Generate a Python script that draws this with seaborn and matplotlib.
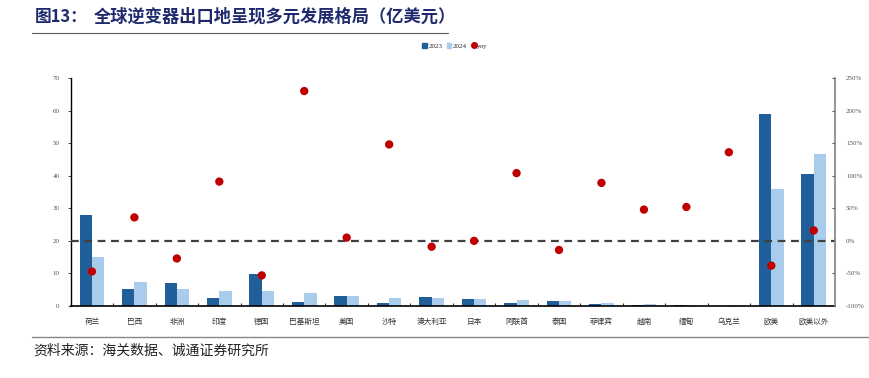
import matplotlib
matplotlib.use("Agg")
import matplotlib.pyplot as plt
import numpy as np
import pandas as pd
import seaborn as sns
from matplotlib.lines import Line2D
from matplotlib.patches import Patch
from matplotlib.ticker import FuncFormatter, MultipleLocator

# ================= 数据 =================
regions = ["荷兰", "巴西", "非洲", "印度", "德国", "巴基斯坦", "美国", "沙特", "澳大利亚",
           "日本", "阿联酋", "泰国", "菲律宾", "越南", "缅甸", "乌克兰", "欧美", "欧美以外"]
export_2023 = [27.9, 5.2, 7.1, 2.5, 9.8, 1.2, 3.1, 0.9, 2.7,
               2.1, 0.9, 1.5, 0.5, 0.3, 0.2, 0.05, 58.9, 40.4]
export_2024 = [14.9, 7.3, 5.1, 4.7, 4.6, 4.0, 3.1, 2.4, 2.4,
               2.1, 1.8, 1.4, 0.8, 0.5, 0.2, 0.2, 35.9, 46.8]
yoy = [-47, 36, -27, 91, -53, 230, 5, 148, -9,
       0, 104, -14, 89, 48, 52, 136, -38, 16]
year_labels = ["2023", "2024"]

df = pd.DataFrame({
    "region": regions * 2,
    "year": [year_labels[0]] * len(regions) + [year_labels[1]] * len(regions),
    "value": export_2023 + export_2024,
})
df_yoy = pd.DataFrame({"region": regions, "yoy": yoy})

# ================= 样式 =================
sns.set_style("white")
plt.rcParams["font.family"] = ["Noto Sans CJK SC", "DejaVu Sans"]
num_font = "Liberation Serif"
c2023, c2024, cdot = "#215f9a", "#a9cbec", "#c00000"
title_color = "#1f2a6e"

fig = plt.figure(figsize=(8.7, 3.78), dpi=100)
ax = fig.add_axes([70.7 / 870, 1 - 306 / 378, (835 - 70.7) / 870, (306 - 78) / 378])

# ================= 柱状图 =================
sns.barplot(data=df, x="region", y="value", hue="year", order=regions,
            palette=[c2023, c2024], width=0.58, saturation=1, ax=ax,
            legend=False, edgecolor="none")
ax.set_xlim(-0.5, len(regions) - 0.5)
ax.set_ylim(0, 70)
ax.yaxis.set_major_locator(MultipleLocator(10))
ax.set_xlabel("")
ax.set_ylabel("")

# ================= 同比散点（右轴） =================
ax2 = ax.twinx()
ax2.axhline(0, color="#404040", lw=1.6, ls=(0, (3.5, 2.5)), zorder=1)
sns.scatterplot(data=df_yoy, x="region", y="yoy", color=cdot, s=36,
                edgecolor="none", ax=ax2, zorder=3, legend=False)
ax2.set_xlim(-0.5, len(regions) - 0.5)
ax2.set_ylim(-100, 250)
ax2.yaxis.set_major_locator(MultipleLocator(50))
ax2.yaxis.set_major_formatter(FuncFormatter(lambda v, p: f"{v:.0f}%"))
ax2.set_ylabel("")

# ================= 坐标轴细节 =================
for a in (ax, ax2):
    a.spines["top"].set_visible(False)
ax.spines["left"].set_color("black")
ax.spines["left"].set_linewidth(1.0)
ax.spines["bottom"].set_color("black")
ax.spines["bottom"].set_linewidth(1.2)
ax.spines["right"].set_visible(False)
ax2.spines["left"].set_visible(False)
ax2.spines["bottom"].set_visible(False)
ax2.spines["right"].set_color("#808080")
ax2.spines["right"].set_linewidth(1.2)

ax.tick_params(axis="y", left=True, direction="out", length=2, width=0.6,
               labelsize=5, labelcolor="#555555", pad=6)
ax2.tick_params(axis="y", right=True, direction="in", length=2, width=0.6,
                labelsize=5, labelcolor="#555555", pad=8)
for lab in ax.get_yticklabels() + ax2.get_yticklabels():
    lab.set_fontfamily(num_font)

ax.set_xticks(np.arange(len(regions)))
ax.set_xticklabels(regions, fontsize=5.5, color="#333333")
ax.tick_params(axis="x", bottom=False, pad=5)
ax.set_xticks(np.arange(len(regions) - 1) + 0.5, minor=True)
ax.tick_params(axis="x", which="minor", bottom=True, direction="in", length=2, width=0.8)

# ================= 图例 =================
handles = [Patch(color=c2023, label="2023"), Patch(color=c2024, label="2024"),
           Line2D([], [], marker="o", ls="none", color=cdot, markersize=4, label="yoy")]
fig.legend(handles=handles, loc="center", bbox_to_anchor=(455 / 870, 1 - 46 / 378),
           ncol=3, frameon=False, prop={"family": num_font, "size": 5},
           handlelength=0.7, handleheight=0.7, handletextpad=0.2, columnspacing=0.6)

# ================= 标题与来源 =================
fig.text(35 / 870, 1 - 17 / 378, "图13：", fontsize=12, fontweight="bold",
         color=title_color, va="center", ha="left")
fig.text(94 / 870, 1 - 17 / 378, "全球逆变器出口地呈现多元发展格局（亿美元）", fontsize=12.4,
         fontweight="bold", color=title_color, va="center", ha="left")
fig.add_artist(Line2D([32 / 870, 448 / 870], [1 - 33 / 378, 1 - 33 / 378],
                      color="#555555", lw=0.8, transform=fig.transFigure))
fig.add_artist(Line2D([32 / 870, 869 / 870], [1 - 337 / 378, 1 - 337 / 378],
                      color="#888888", lw=1.0, transform=fig.transFigure))
fig.text(33 / 870, 1 - 351 / 378, "资料来源：海关数据、诚通证券研究所", fontsize=10,
         color="#222222", va="center", ha="left")

fig.savefig("out.png", dpi=100)
plt.close("all")
